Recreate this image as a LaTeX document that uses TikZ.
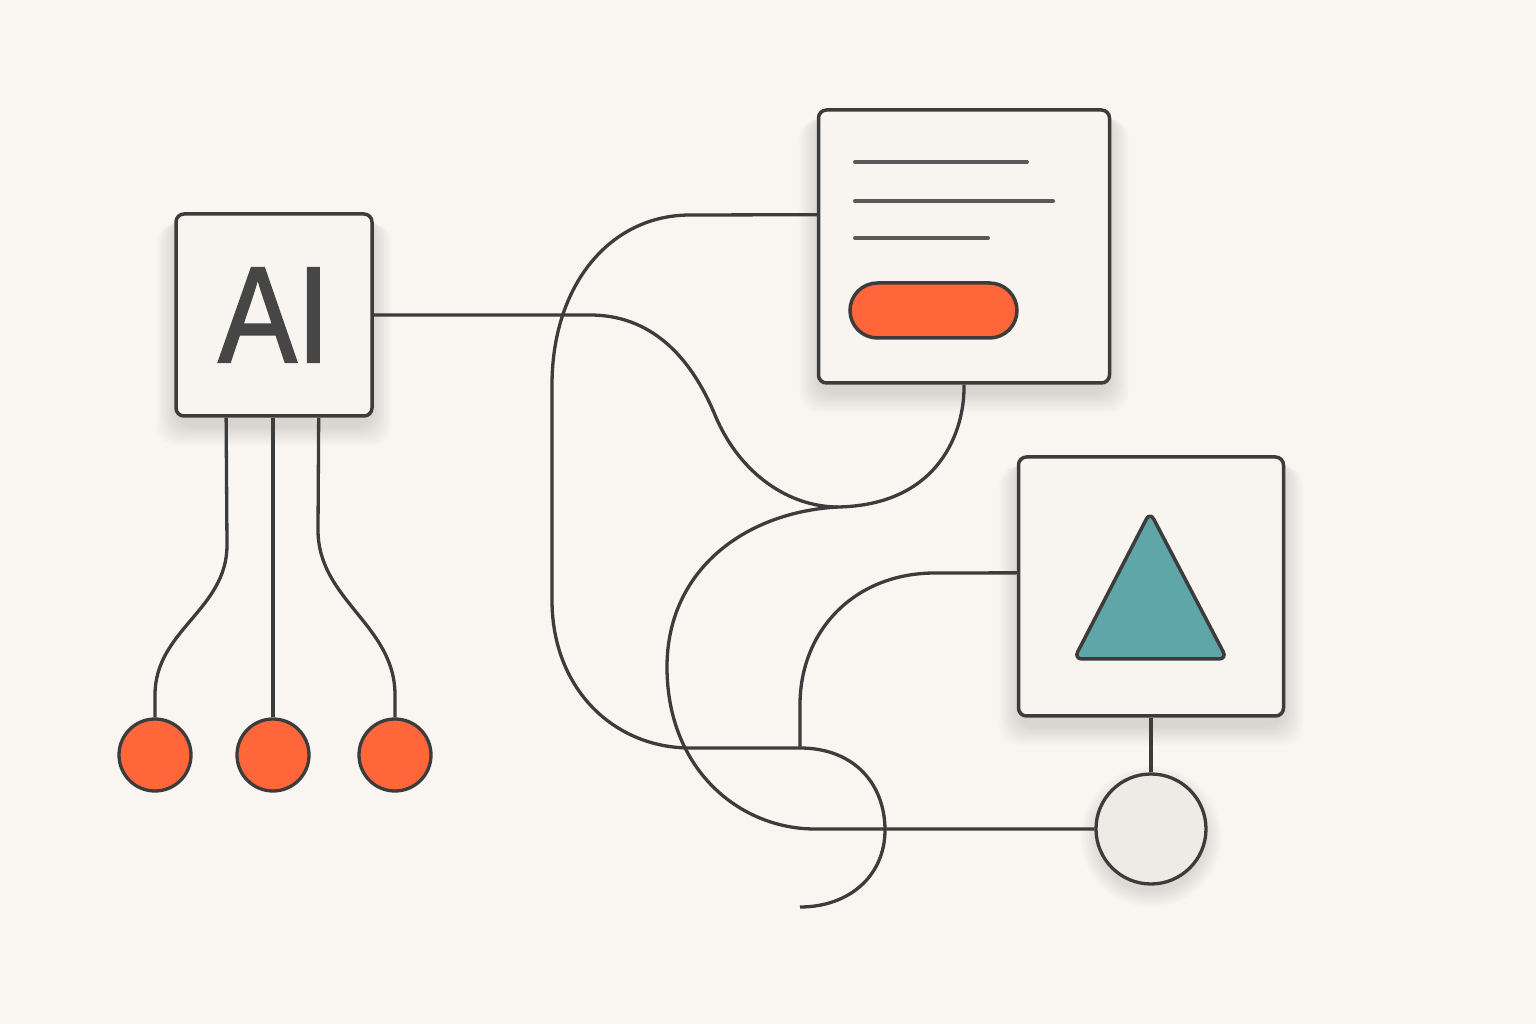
\documentclass[tikz,border=0pt]{standalone}
\usepackage{fontspec}
\usepackage{graphicx}
\setmainfont{Liberation Sans}
\usetikzlibrary{calc,backgrounds}
\definecolor{paper}{HTML}{F9F6F1}
\definecolor{cardfill}{HTML}{F8F5F0}
\definecolor{ink}{HTML}{3C3C3C}
\definecolor{coral}{HTML}{FF663A}
\definecolor{tealfill}{HTML}{5FA6A9}
\definecolor{hubfill}{HTML}{EEEAE5}
\tikzset{
  card/.style={draw=ink,line width=0.35mm,fill=cardfill,rounded corners=0.8mm,inner sep=0pt},
  wire/.style={draw=ink,line width=0.33mm},
  dot/.style={circle,draw=ink,line width=0.33mm,fill=coral,minimum size=7.2mm,inner sep=0pt},
  txtline/.style={draw=ink!85,line width=0.4mm,line cap=round},
  haze/.style={fill=black,opacity=0.016}
}
\newcommand\cardshadow[1]{%
  \foreach \k in {0,...,7}
    \fill[haze,rounded corners=2mm]($(#1.north west)+(-\k*2.5,4+\k)$)rectangle($(#1.south east)+(\k*2.5,10+\k*2.5)$);}
\begin{document}
\begin{tikzpicture}[x=0.1mm,y=-0.1mm]
	\useasboundingbox(0,0)rectangle(1536,1024);
	\node[card,minimum width=19.6mm,minimum height=20.2mm,text=ink!95](ai) at(274,315){\fontsize{39}{40}\selectfont\addfontfeature{FakeBold=1.6}\scalebox{0.86}[1]{AI}};
	\node[card,minimum width=29.1mm,minimum height=27.3mm](doc) at(964,246.5){};
	\node[card,minimum width=26.5mm,minimum height=25.9mm](shape) at(1151,586.5){};
	\node[circle,draw=ink,line width=0.33mm,fill=hubfill,minimum size=11mm,inner sep=0pt](hub) at(1151,829){};
	\node[dot](o1) at(155,755){};
	\node[dot](o2) at(273,755){};
	\node[dot](o3) at(395,755){};
	\begin{scope}[on background layer]
	\fill[paper](0,0)rectangle(1536,1024);
	\cardshadow{ai}
	\cardshadow{doc}
	\cardshadow{shape}
	\foreach \k in {0,...,6}
		\fill[haze]($(hub.center)+(0,8)$)circle[radius=55+\k*2.5];
	\end{scope}
	\draw[txtline](855,162)--(1027,162);
	\draw[txtline](855,201)--(1053,201);
	\draw[txtline](855,238)--(988,238);
	\node[draw=ink,line width=0.35mm,fill=coral,rounded corners=2.75mm,minimum width=16.7mm,minimum height=5.5mm,inner sep=0pt](btn) at(933.5,310.5){};
	\draw[draw=ink,line width=0.35mm,fill=tealfill,rounded corners=0.8mm,line join=round](1150,512)--(1227,659)--(1074,659)--cycle;
	\coordinate(j1) at(838,507);
	\coordinate(j2) at(800,748);
	\coordinate(tail) at(800,907);
	\draw[wire](ai.east)--(590,315)..controls(650,315)and(690,355)..(715,415)
		..controls(740,475)and(790,507)..(j1)..controls(940,505)and(965,430)..(doc.south);
	\draw[wire](j1)..controls(745,512)and(667,570)..(667,667)..controls(667,770)and(740,829)..(815,829)--(hub.west);
	\draw[wire]($(doc.north west)!0.385!(doc.south west)$)--(690,215)..controls(610,215)and(552,285)..(552,385)--(552,600)
		..controls(552,690)and(615,748)..(690,748)--(j2)..controls(855,748)and(885,785)..(885,830)
		..controls(885,875)and(850,907)..(tail);
	\draw[wire]($(shape.north west)!0.448!(shape.south west)$)--(935,573)..controls(855,573)and(800,630)..(800,705)--(j2);
	\draw[wire](shape.south)--(hub.north);
	\draw[wire]($(ai.south west)!0.26!(ai.south east)$)--(227,545)..controls(227,610)and(155,630)..(155,695)--(o1.north);
	\draw[wire](o2.north|-ai.south)--(o2.north);
	\draw[wire]($(ai.south west)!0.724!(ai.south east)$)--(318,530)..controls(318,600)and(395,625)..(395,695)--(o3.north);
\end{tikzpicture}
\end{document}
